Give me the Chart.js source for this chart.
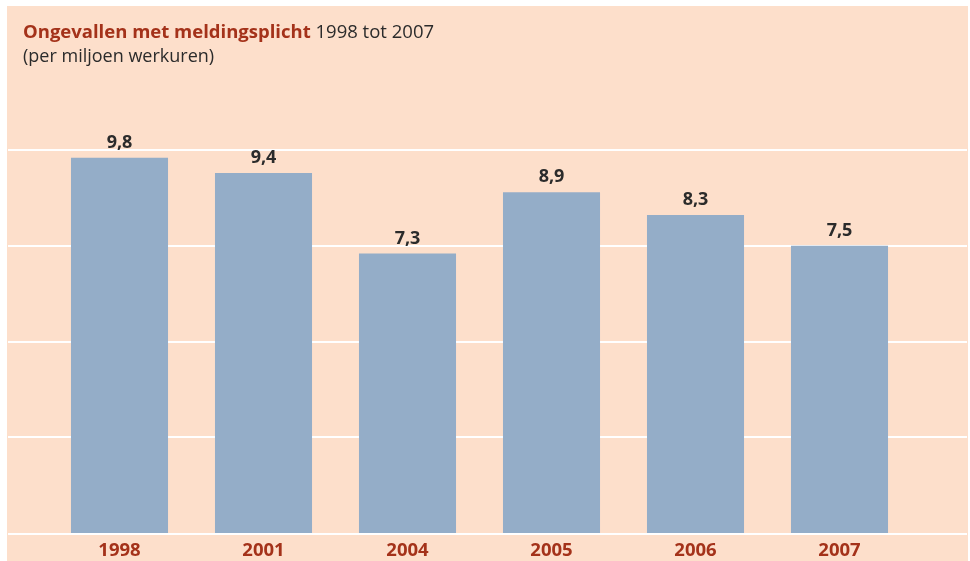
<!DOCTYPE html>
<html>
<head>
<meta charset="utf-8">
<script src="https://cdn.jsdelivr.net/npm/chart.js@4"></script>
<style>
  html, body { margin: 0; padding: 0; background: #fff; }
  #wrap { position: relative; width: 970px; height: 561px; }
  #title { position: absolute; left: 23px; top: 18px; font-family: "Open Sans", sans-serif; font-size: 18.5px; color: #2b2b2b; line-height: 26px; }
  #title b { color: #a4321a; }
  #sub { position: absolute; left: 23px; top: 43px; font-family: "Open Sans", sans-serif; font-size: 18px; color: #2b2b2b; line-height: 24px; }
  canvas { position: absolute; left: 0; top: 0; }
</style>
</head>
<body>
<div id="wrap">
  <canvas id="chart" width="970" height="561"></canvas>
  <div id="title"><b>Ongevallen met meldingsplicht</b> 1998 tot 2007</div>
  <div id="sub">(per miljoen werkuren)</div>
</div>
<script>
const years = ['1998', '2001', '2004', '2005', '2006', '2007'];
const accidents = [9.8, 9.4, 7.3, 8.9, 8.3, 7.5];
const gridValues = [0, 2.5, 5, 7.5, 10];

const PEACH = '#fddfcb';
const BAR = '#94adc8';
const RED = '#a4321a';

// peach panel + white gridlines running the full panel width
const backdrop = {
  id: 'backdrop',
  beforeDraw(chart) {
    const ctx = chart.ctx;
    ctx.save();
    ctx.fillStyle = PEACH;
    ctx.fillRect(7, 6, 961, 555);
    ctx.restore();
  },
  beforeDatasetsDraw(chart) {
    const ctx = chart.ctx;
    const y = chart.scales.y;
    ctx.save();
    ctx.strokeStyle = '#ffffff';
    ctx.lineWidth = 2;
    gridValues.forEach(v => {
      const py = Math.round(y.getPixelForValue(v)) + (v === 0 ? 1 : 0);
      ctx.beginPath();
      ctx.moveTo(8, py);
      ctx.lineTo(967, py);
      ctx.stroke();
    });
    ctx.restore();
  }
};

// value labels above bars, with a decimal comma
const valueLabels = {
  id: 'valueLabels',
  afterDatasetsDraw(chart) {
    const ctx = chart.ctx;
    const meta = chart.getDatasetMeta(0);
    ctx.save();
    ctx.font = 'bold 18px "Open Sans", sans-serif';
    ctx.fillStyle = '#2b2b2b';
    ctx.textAlign = 'center';
    ctx.textBaseline = 'middle';
    meta.data.forEach((bar, i) => {
      ctx.fillText(accidents[i].toFixed(1).replace('.', ','), bar.x, bar.y - 15);
    });
    ctx.restore();
  }
};

new Chart(document.getElementById('chart'), {
  type: 'bar',
  data: {
    labels: years,
    datasets: [{
      data: accidents,
      backgroundColor: BAR,
      borderWidth: 0,
      categoryPercentage: 1,
      barPercentage: 0.674
    }]
  },
  options: {
    responsive: false,
    animation: false,
    layout: { padding: { left: 47.5, right: 58.5, top: 150, bottom: 0 } },
    plugins: { legend: { display: false }, tooltip: { enabled: false } },
    scales: {
      x: {
        grid: { display: false, drawTicks: false },
        border: { display: false },
        ticks: {
          color: RED,
          font: { family: '"Open Sans", sans-serif', size: 18.5, weight: 'bold' },
          padding: 7
        },
        afterFit(scale) { scale.height = 28; }
      },
      y: {
        display: false,
        min: 0,
        max: 10
      }
    }
  },
  plugins: [backdrop, valueLabels]
});
</script>
</body>
</html>
